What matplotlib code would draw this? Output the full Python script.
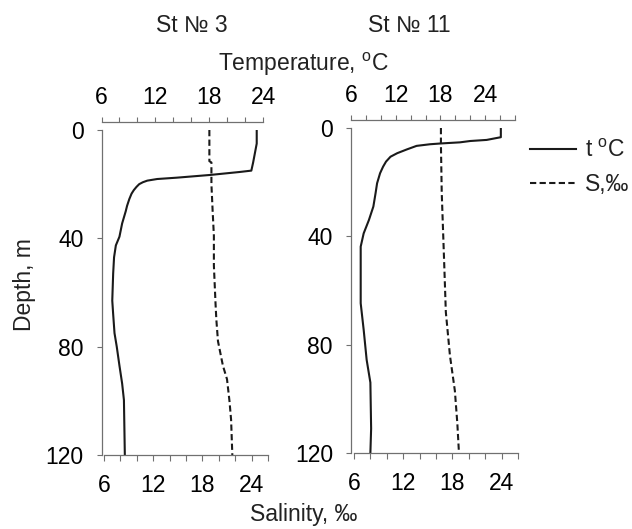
import numpy as np
import matplotlib as mpl
mpl.use('Agg')
import matplotlib.pyplot as plt

mpl.rcParams['font.family'] = ['Liberation Sans', 'DejaVu Sans']
mpl.rcParams['mathtext.fontset'] = 'custom'
mpl.rcParams['mathtext.rm'] = 'Liberation Sans'
mpl.rcParams['text.color'] = '#222222'

# %% data
# St 3
st3_t_depth = [0, 5, 12, 15, 15.5, 16.6, 17.6, 18.1, 18.7, 19.3, 20, 21, 22.2, 23.5, 25.5,
               28, 30, 34.5, 39.4, 42.6, 47, 53, 63, 68, 75, 80, 87, 93.6, 99.7, 120]
st3_temp = [23.3, 23.3, 22.9, 22.7, 21.4, 18.1, 14.4, 12.2, 11.1, 10.6, 10.2, 9.9, 9.6,
            9.35, 9.1, 8.85, 8.7, 8.3, 8.0, 7.6, 7.4, 7.3, 7.2, 7.3, 7.45, 7.7, 8.0, 8.3,
            8.5, 8.6]
st3_s_depth = [0, 11.5, 12, 20, 30, 39, 50, 64, 70, 78, 87, 92, 100, 107, 120]
st3_sal = [18.85, 18.85, 19.1, 19.1, 19.25, 19.4, 19.4, 19.6, 19.7, 19.9, 20.5, 21.0,
           21.3, 21.5, 21.65]

# St 11
st11_t_depth = [0, 3.4, 4.4, 4.8, 5.3, 5.7, 6.0, 6.6, 7.9, 9.3, 10.6, 12.4, 14.3, 16.7,
                20.4, 24, 29, 34, 38.9, 43.8, 64.7, 74.5, 85.6, 94, 111, 120]
st11_temp = [26.1, 26.1, 24.2, 22.0, 20.6, 18.1, 16.6, 14.8, 13.5, 12.2, 11.3, 10.7, 10.3,
             9.9, 9.5, 9.3, 9.0, 8.4, 7.7, 7.3, 7.3, 7.7, 8.1, 8.6, 8.7, 8.6]
st11_s_depth = [0, 6, 24, 50, 68, 84, 97, 109, 120]
st11_sal = [16.6, 16.6, 16.7, 17.0, 17.2, 17.7, 18.3, 18.6, 18.8]

titles = ['St № 3', 'St № 11']
depth_ticks = [0, 40, 80, 120]
major_labels = [6, 12, 18, 24]

# %% figure
W, H = 632, 529
fig = plt.figure(figsize=(W / 100, H / 100), dpi=100)
fig.patch.set_facecolor('white')
FS = 16.5
SPINE = '#707070'


def px_box(x0, x1, y0, y1):
    return [x0 / W, 1 - y1 / H, (x1 - x0) / W, (y1 - y0) / H]


def tick_labels(ticks):
    return [str(t) if t in major_labels else '' for t in ticks]


def panel(t_box, s_box, t_max, depth_t, temp, depth_s, sal):
    axt = fig.add_axes(px_box(*t_box))
    axs = fig.add_axes(px_box(*s_box), sharey=axt)
    axs.patch.set_alpha(0)

    # temperature on top
    axt.plot(temp, depth_t, color='#1a1a1a', lw=1.5, solid_joinstyle='round')
    axt.set_xlim(6, t_max)
    axt.set_ylim(120, 0)
    tt = list(range(6, t_max + 1, 2))
    axt.set_xticks(tt)
    axt.set_xticklabels(tick_labels(tt))
    axt.xaxis.tick_top()
    axt.spines['top'].set_position(('outward', 5.8))
    for s in ['right', 'bottom']:
        axt.spines[s].set_visible(False)
    axt.set_yticks(depth_ticks)
    axt.tick_params(axis='x', direction='out', length=3.5, width=0.8, color=SPINE,
                    labelsize=FS, pad=6)
    axt.tick_params(axis='y', direction='out', length=3.5, width=0.8, color=SPINE,
                    labelsize=FS, pad=9.5)
    for s in ['top', 'left']:
        axt.spines[s].set_color(SPINE)
        axt.spines[s].set_linewidth(0.9)

    # salinity on bottom
    axs.plot(sal, depth_s, color='#1a1a1a', lw=1.5, dashes=(3, 1.6))
    axs.set_xlim(6, 26)
    st = list(range(6, 27, 2))
    axs.set_xticks(st)
    axs.set_xticklabels(tick_labels(st))
    for s in ['top', 'right', 'left']:
        axs.spines[s].set_visible(False)
    axs.spines['bottom'].set_color(SPINE)
    axs.spines['bottom'].set_linewidth(0.9)
    axs.tick_params(axis='x', direction='out', length=4.5, width=0.8, color=SPINE,
                    labelsize=FS, pad=9.5)
    axs.tick_params(axis='y', left=False, labelleft=False)
    return axt, axs


axt3, axs3 = panel((101.5, 263, 130, 455), (104, 268, 130, 455), 24,
                   st3_t_depth, st3_temp, st3_s_depth, st3_sal)
axt11, axs11 = panel((351, 515, 128, 453), (354, 518, 128, 453), 28,
                     st11_t_depth, st11_temp, st11_s_depth, st11_sal)

# titles and axis names
fig.text(192 / W, 1 - 26 / H, titles[0], ha='center', va='center', fontsize=FS)
fig.text(409 / W, 1 - 26 / H, titles[1], ha='center', va='center', fontsize=FS)
fig.text(304 / W, 1 - 64 / H, r'Temperature, $^{\mathrm{o}}$C', ha='center', va='center',
         fontsize=FS)
fig.text(304 / W, 3 / H, 'Salinity, ‰', ha='center', va='bottom', fontsize=FS)
fig.text(25 / W, 1 - 285 / H, 'Depth, m', ha='center', va='center', rotation=90,
         fontsize=FS)

# legend
h1 = axt11.get_lines()[0]
h2 = axs11.get_lines()[0]
fig.legend([h1, h2], [r't $^{\mathrm{o}}$C', 'S,‰'], loc='upper left',
           bbox_to_anchor=(523 / W, 1 - 132 / H), frameon=False, fontsize=FS,
           handlelength=2.0, handletextpad=0.4, labelspacing=0.5, borderaxespad=0,
           borderpad=0.3)

fig.savefig('out.png', dpi=100, facecolor='white')
